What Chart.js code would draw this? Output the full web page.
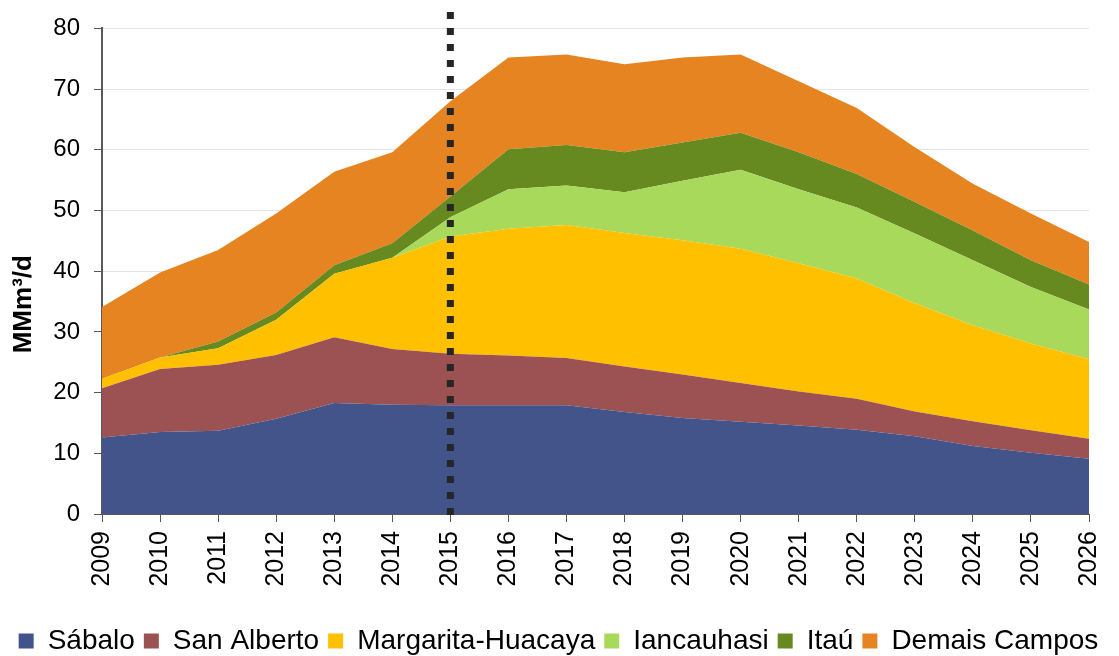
<!DOCTYPE html>
<html>
<head>
<meta charset="utf-8">
<script src="https://cdn.jsdelivr.net/npm/chart.js@4"></script>
<style>
  html, body { margin: 0; padding: 0; background: #fff; }
  #wrap { width: 1119px; height: 656px; }
</style>
</head>
<body>
<div id="wrap"><canvas id="gas-chart" width="1119" height="656"></canvas></div>
<script>
'use strict';

// data (MMm³/d)
const years = ['2009', '2010', '2011', '2012', '2013', '2014', '2015', '2016', '2017',
  '2018', '2019', '2020', '2021', '2022', '2023', '2024', '2025', '2026'];
const sabalo = [12.6, 13.5, 13.7, 15.7, 18.3, 18.0, 17.9, 17.9, 17.9, 16.8, 15.8, 15.2, 14.6, 13.9, 12.8, 11.2, 10.1, 9.1];
const sanAlberto = [8.1, 10.4, 10.9, 10.5, 10.8, 9.2, 8.5, 8.2, 7.8, 7.5, 7.2, 6.4, 5.6, 5.1, 4.1, 4.1, 3.7, 3.3];
const margarita = [1.6, 1.9, 2.7, 5.8, 10.5, 15.0, 19.3, 20.9, 21.9, 22.0, 22.1, 22.1, 21.1, 19.8, 17.8, 15.8, 14.3, 13.1];
const iancauhasi = [0, 0, 0, 0, 0, 0, 3.2, 6.5, 6.5, 6.7, 9.8, 13.0, 12.2, 11.7, 11.5, 10.7, 9.3, 8.2];
const itau = [0, 0, 1.1, 1.2, 1.4, 2.4, 3.4, 6.6, 6.7, 6.6, 6.3, 6.1, 6.1, 5.5, 5.2, 4.9, 4.4, 4.1];
const demais = [11.8, 14.0, 15.1, 16.3, 15.4, 15.0, 15.7, 15.1, 14.9, 14.5, 14.0, 12.9, 11.7, 10.9, 9.0, 7.7, 7.7, 7.0];
const yTicks = [0, 10, 20, 30, 40, 50, 60, 70, 80];
const markerYear = '2015';
const yTitle = 'MMm³/d';

const font = 'Arial, "Liberation Sans", sans-serif';

function area(label, values, color, fill) {
  return {
    label: label,
    data: values,
    backgroundColor: color,
    borderColor: color,
    borderWidth: 0,
    pointRadius: 0,
    pointHoverRadius: 0,
    tension: 0,
    fill: fill
  };
}

// dotted line marking 2015 and the axis title (sits a bit below the middle)
const extras = {
  id: 'extras',
  afterDatasetsDraw(chart) {
    const ctx = chart.ctx;
    const area = chart.chartArea;
    const x = chart.scales.x.getPixelForValue(years.indexOf(markerYear));
    ctx.save();
    ctx.strokeStyle = '#262626';
    ctx.lineWidth = 7;
    ctx.setLineDash([7, 9]);
    ctx.beginPath();
    ctx.moveTo(x, 12);
    ctx.lineTo(x, area.bottom + 6);
    ctx.stroke();
    ctx.restore();

    ctx.save();
    ctx.translate(24, (area.top + area.bottom) / 2 + 33);
    ctx.rotate(-Math.PI / 2);
    ctx.fillStyle = '#000';
    ctx.font = 'bold 26px ' + font;
    ctx.textAlign = 'center';
    ctx.textBaseline = 'middle';
    ctx.fillText(yTitle, 0, 0);
    ctx.restore();
  }
};

const ctx = document.getElementById('gas-chart');
new Chart(ctx, {
  type: 'line',
  data: {
    labels: years,
    datasets: [
      area('Sábalo', sabalo, '#43548B', 'origin'),
      area('San Alberto', sanAlberto, '#9C5152', '-1'),
      area('Margarita-Huacaya', margarita, '#FFC000', '-1'),
      area('Iancauhasi', iancauhasi, '#A9D95A', '-1'),
      area('Itaú', itau, '#678A20', '-1'),
      area('Demais Campos', demais, '#E68422', '-1')
    ]
  },
  options: {
    responsive: false,
    animation: false,
    events: [],
    layout: { padding: { left: 4, right: 6, top: 13, bottom: -9 } },
    plugins: {
      tooltip: { enabled: false },
      legend: {
        position: 'bottom',
        labels: {
          color: '#000',
          font: { family: font, size: 28 },
          boxWidth: 15,
          boxHeight: 15,
          padding: 9
        }
      }
    },
    scales: {
      x: {
        offset: false,
        afterFit(scale) {
          scale.height = 104;
          scale.paddingRight = 30;
        },
        grid: { drawOnChartArea: false, color: '#595959', tickColor: '#595959', tickLength: 8 },
        border: { color: '#595959', width: 1 },
        ticks: {
          color: '#000',
          font: { family: font, size: 25 },
          minRotation: 90,
          maxRotation: 90,
          autoSkip: false,
          padding: 9
        }
      },
      y: {
        stacked: true,
        min: 0,
        max: 80,
        afterBuildTicks(scale) {
          scale.ticks = yTicks.map(v => ({ value: v }));
        },
        afterFit(scale) { scale.width = 98; },
        grid: { color: '#E1E6EE', tickColor: '#595959', tickLength: 8 },
        border: { color: '#595959', width: 2 },
        ticks: {
          color: '#000',
          font: { family: font, size: 24 },
          padding: 14
        }
      }
    }
  },
  plugins: [extras]
});
</script>
</body>
</html>
